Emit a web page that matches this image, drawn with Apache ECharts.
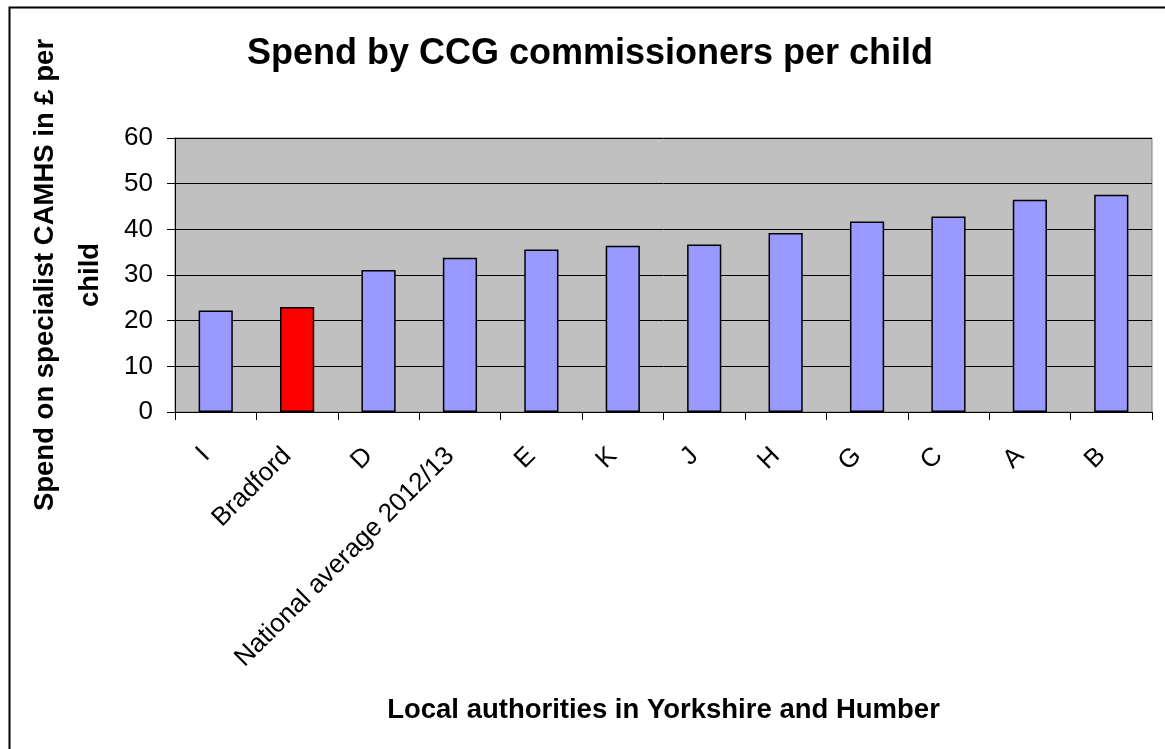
<!DOCTYPE html>
<html>
<head>
<meta charset="utf-8">
<title>Spend by CCG commissioners per child</title>
<script src="https://cdn.jsdelivr.net/npm/echarts@6/dist/echarts.min.js"></script>
<style>
  html, body { margin: 0; padding: 0; background: #fff; }
  #chartModel { width: 1165px; height: 749px; }
</style>
</head>
<body>
<div id="chartModel"></div>
<script>
// categories, left to right
const categories = ['I', 'Bradford', 'D', 'National average 2012/13', 'E', 'K', 'J', 'H', 'G', 'C', 'A', 'B'];
// spend per child (£)
const spendValues = [22.2, 23.0, 31.1, 33.8, 35.6, 36.4, 36.7, 39.2, 41.7, 42.8, 46.5, 47.6];
// y ticks
const yTicks = [0, 10, 20, 30, 40, 50, 60];
// the one bar drawn in red
const highlightName = 'Bradford';

const fontFamily = 'Arial, "Liberation Sans", sans-serif';

const myChart = echarts.init(document.getElementById('chartModel'));
const chartOption = {
  animation: false,
  backgroundColor: '#fff',
  title: {
    text: 'Spend by CCG commissioners per child',
    left: 585,
    textAlign: 'center',
    top: 31,
    textStyle: {
      color: '#000',
      fontFamily: fontFamily,
      fontSize: 36,
      fontWeight: 'bold'
    }
  },
  // outer frame, runs off the right and bottom edge
  graphic: [
    {
      type: 'rect',
      shape: { x: 9.5, y: 7.5, width: 1200, height: 800 },
      style: { fill: 'none', stroke: '#000', lineWidth: 2 },
      silent: true
    }
  ],
  grid: {
    left: 175,
    right: 13,
    top: 138,
    bottom: 337,
    show: true,
    backgroundColor: '#C0C0C0',
    borderColor: '#808080',
    borderWidth: 1
  },
  xAxis: {
    type: 'category',
    data: categories,
    name: 'Local authorities in Yorkshire and Humber',
    nameLocation: 'middle',
    nameGap: 284,
    nameTextStyle: {
      color: '#000',
      fontFamily: fontFamily,
      fontSize: 27.5,
      fontWeight: 'bold'
    },
    axisLine: { lineStyle: { color: '#000', width: 1 } },
    axisTick: { show: true, alignWithLabel: false, length: 8, lineStyle: { color: '#000' } },
    axisLabel: {
      rotate: 45,
      margin: 30,
      padding: [0, 14, 0, 0],
      interval: 0,
      color: '#000',
      fontFamily: fontFamily,
      fontSize: 26
    }
  },
  yAxis: {
    type: 'value',
    min: yTicks[0],
    max: yTicks[yTicks.length - 1],
    interval: 10,
    name: 'Spend on specialist CAMHS in £ per\nchild',
    nameLocation: 'middle',
    nameGap: 59,
    nameTextStyle: {
      color: '#000',
      fontFamily: fontFamily,
      fontSize: 27.5,
      fontWeight: 'bold',
      lineHeight: 45,
      align: 'center'
    },
    axisLine: { show: true, lineStyle: { color: '#000', width: 1 } },
    axisTick: { show: true, length: 8, lineStyle: { color: '#000' } },
    axisLabel: {
      margin: 22,
      color: '#000',
      fontFamily: fontFamily,
      fontSize: 26
    },
    splitLine: { show: true, lineStyle: { color: '#000', width: 1 } }
  },
  series: [
    {
      name: 'Spend per child',
      type: 'bar',
      barWidth: '42%',
      data: spendValues.map((v, i) => ({
        value: v,
        itemStyle: {
          color: categories[i] === highlightName ? '#FF0000' : '#9999FF'
        }
      })),
      itemStyle: {
        borderColor: '#000',
        borderWidth: 1.5
      }
    }
  ]
};
myChart.setOption(chartOption);
</script>
</body>
</html>
